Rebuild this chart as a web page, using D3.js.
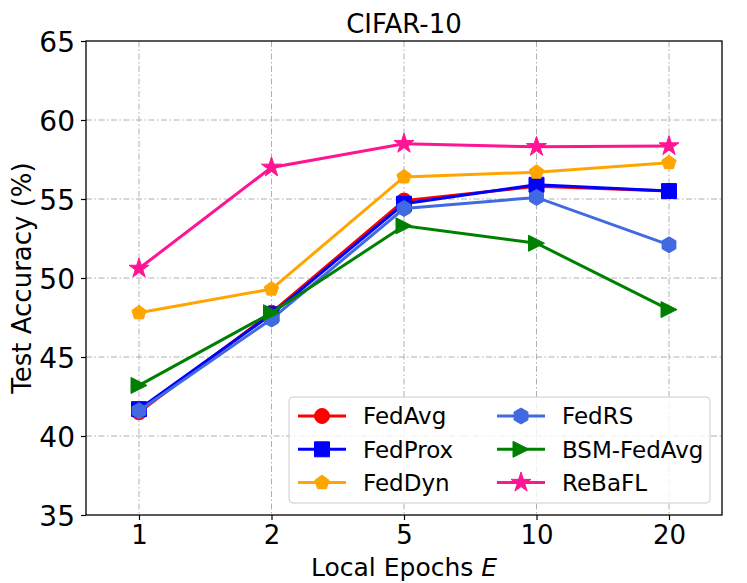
<!DOCTYPE html>
<html>
<head>
<meta charset="utf-8">
<script src="https://cdn.jsdelivr.net/npm/d3@7"></script>
<style>
  body { margin: 0; background: #fff; }
  svg text { font-family: "DejaVu Sans", sans-serif; fill: #000; }
</style>
</head>
<body>
<div id="chart"></div>
<script>
// DATA
const epochs = ["1", "2", "5", "10", "20"];
const yTicks = [35, 40, 45, 50, 55, 60, 65];
const methods = ["FedAvg", "FedProx", "FedDyn", "FedRS", "BSM-FedAvg", "ReBaFL"];
const fedAvg = [41.5, 47.8, 54.9, 55.8, 55.5];
const fedProx = [41.7, 47.7, 54.7, 55.9, 55.5];
const fedDyn = [47.8, 49.3, 56.4, 56.7, 57.3];
const fedRS = [41.6, 47.4, 54.4, 55.1, 52.1];
const bsmFedAvg = [43.2, 47.8, 53.3, 52.2, 48.0];
const reBaFL = [50.6, 57.0, 58.5, 58.3, 58.35];

// CONSTANTS
const width = 747;
const height = 583;
const margin = { top: 41, right: 25, bottom: 68, left: 86 };

const series = [
  { name: methods[0], values: fedAvg, color: "#ff0000", marker: "circle", size: 15 },
  { name: methods[1], values: fedProx, color: "#0000ff", marker: "square", size: 15 },
  { name: methods[2], values: fedDyn, color: "#ffa500", marker: "pentagon", size: 15 },
  { name: methods[3], values: fedRS, color: "#4169e1", marker: "hexagon", size: 16 },
  { name: methods[4], values: bsmFedAvg, color: "#008000", marker: "triangle", size: 16 },
  { name: methods[5], values: reBaFL, color: "#ff1493", marker: "star", size: 21 },
];

const polygon = (n, r, rot, inner) => {
  const pts = [];
  const count = inner ? n * 2 : n;
  for (let i = 0; i < count; i++) {
    const a = rot + (i * 2 * Math.PI) / count;
    const rr = inner && i % 2 === 1 ? r * inner : r;
    pts.push([rr * Math.cos(a), rr * Math.sin(a)]);
  }
  return "M" + pts.map((p) => p[0].toFixed(2) + "," + p[1].toFixed(2)).join("L") + "Z";
};

const markerPath = (type, s) => {
  const r = s / 2;
  switch (type) {
    case "circle":
      return `M${r},0A${r},${r} 0 1,1 ${-r},0A${r},${r} 0 1,1 ${r},0Z`;
    case "square":
      return `M${-r},${-r}H${r}V${r}H${-r}Z`;
    case "pentagon":
      return polygon(5, r, -Math.PI / 2);
    case "hexagon":
      return polygon(6, r, -Math.PI / 2);
    case "triangle":
      return `M${r},0L${-r},${-r}L${-r},${r}Z`;
    case "star":
      return polygon(5, r, -Math.PI / 2, 0.381966);
  }
};

const svg = d3
  .select("#chart")
  .append("svg")
  .attr("width", width)
  .attr("height", height);

const x = d3
  .scalePoint()
  .domain(epochs)
  .range([margin.left, width - margin.right])
  .padding(0.4);

const y = d3
  .scaleLinear()
  .domain([35, 65])
  .range([height - margin.bottom, margin.top]);

// grid
svg
  .append("g")
  .selectAll("line")
  .data(yTicks.slice(1, -1))
  .join("line")
  .attr("x1", margin.left)
  .attr("x2", width - margin.right)
  .attr("y1", (d) => y(d))
  .attr("y2", (d) => y(d))
  .attr("stroke", "#b0b0b0")
  .attr("stroke-width", 1)
  .attr("stroke-dasharray", "6,2.5,1.5,2.5");

svg
  .append("g")
  .selectAll("line")
  .data(epochs)
  .join("line")
  .attr("x1", (d) => x(d))
  .attr("x2", (d) => x(d))
  .attr("y1", margin.top)
  .attr("y2", height - margin.bottom)
  .attr("stroke", "#b0b0b0")
  .attr("stroke-width", 1)
  .attr("stroke-dasharray", "6,2.5,1.5,2.5");

// axes
const xAxis = svg
  .append("g")
  .attr("transform", `translate(0,${height - margin.bottom})`)
  .call(d3.axisBottom(x).tickSize(5).tickPadding(6));

const yAxis = svg
  .append("g")
  .attr("transform", `translate(${margin.left},0)`)
  .call(d3.axisLeft(y).tickValues(yTicks).tickSize(5).tickPadding(6));

[xAxis, yAxis].forEach((g) => {
  g.select(".domain").remove();
  g.selectAll(".tick line").attr("stroke", "#000").attr("stroke-width", 1.2);
  g.selectAll(".tick text").style("font-family", "DejaVu Sans");
});
xAxis.selectAll(".tick text").style("font-size", "26px").attr("dy", "0.71em");
yAxis.selectAll(".tick text").style("font-size", "28px").attr("dy", "0.36em");

// frame
svg
  .append("rect")
  .attr("x", margin.left)
  .attr("y", margin.top)
  .attr("width", width - margin.right - margin.left)
  .attr("height", height - margin.bottom - margin.top)
  .attr("fill", "none")
  .attr("stroke", "#000")
  .attr("stroke-width", 1.3);

// lines + markers
const line = d3
  .line()
  .x((d, i) => x(epochs[i]))
  .y((d) => y(d));

series.forEach((s) => {
  const g = svg.append("g");
  g.append("path")
    .attr("d", line(s.values))
    .attr("fill", "none")
    .attr("stroke", s.color)
    .attr("stroke-width", 3);
  g.selectAll("path.marker")
    .data(s.values)
    .join("path")
    .attr("class", "marker")
    .attr("d", markerPath(s.marker, s.size))
    .attr("transform", (d, i) => `translate(${x(epochs[i])},${y(d)})`)
    .attr("fill", s.color)
    .attr("stroke", s.color)
    .attr("stroke-width", 1);
});

// legend
const legend = svg.append("g").attr("transform", "translate(289,397)");
legend
  .append("rect")
  .attr("width", 421)
  .attr("height", 106)
  .attr("rx", 4)
  .attr("fill", "#fff")
  .attr("fill-opacity", 0.8)
  .attr("stroke", "#cccccc")
  .attr("stroke-width", 1);

series.forEach((s, i) => {
  const col = Math.floor(i / 3);
  const row = i % 3;
  const gx = 9 + col * 199;
  const gy = 19 + row * 33.3;
  const item = legend.append("g").attr("transform", `translate(${gx},${gy})`);
  item
    .append("line")
    .attr("x1", 0)
    .attr("x2", 48)
    .attr("stroke", s.color)
    .attr("stroke-width", 3);
  item
    .append("path")
    .attr("d", markerPath(s.marker, s.size))
    .attr("transform", "translate(24,0)")
    .attr("fill", s.color)
    .attr("stroke", s.color)
    .attr("stroke-width", 1);
  item
    .append("text")
    .attr("x", 65)
    .attr("dy", "0.36em")
    .style("font-size", "23px")
    .text(s.name);
});

// title
svg
  .append("text")
  .attr("x", (margin.left + width - margin.right) / 2)
  .attr("y", 33)
  .attr("text-anchor", "middle")
  .style("font-size", "26px")
  .text("CIFAR-10");

// axis labels
svg
  .append("text")
  .attr("x", (margin.left + width - margin.right) / 2)
  .attr("y", 576)
  .attr("text-anchor", "middle")
  .style("font-size", "25px")
  .html('Local Epochs <tspan font-style="italic">E</tspan>');

svg
  .append("text")
  .attr("transform", `translate(31,${(margin.top + height - margin.bottom) / 2}) rotate(-90)`)
  .attr("text-anchor", "middle")
  .style("font-size", "26px")
  .text("Test Accuracy (%)");
</script>
</body>
</html>
